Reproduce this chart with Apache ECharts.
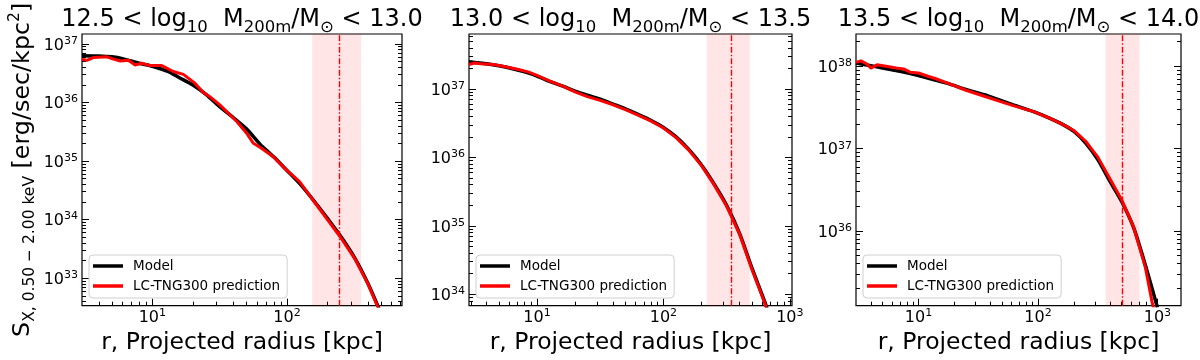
<!DOCTYPE html>
<html><head><meta charset="utf-8">
<script src="https://cdn.jsdelivr.net/npm/echarts@6/dist/echarts.min.js"></script>
<style>html,body{margin:0;padding:0;background:#fff}#c{width:1200px;height:360px}</style>
</head><body><div id="c"></div>
<script>
// ---------------- DATA ----------------
const massBins = [[12.5, 13.0], [13.0, 13.5], [13.5, 14.0]];

// Panel 1 : 12.5 < log M < 13.0
const p1ModelR = [3, 4, 5, 6, 8, 10, 13, 16, 20, 25, 32, 40, 50, 63, 80, 100, 125, 160, 200, 250, 320, 400, 500];
const p1ModelS = [6.31e36, 6.24e36, 6.03e36, 5.62e36, 4.68e36, 4.17e36, 3.39e36, 2.63e36, 2.00e36, 1.38e36, 8.32e35, 5.50e35, 3.55e35, 1.95e35, 1.17e35, 6.92e34, 4.07e34, 2.04e34, 1.05e34, 5.25e33, 2.19e33, 8.13e32, 2.51e32];
const p1PredR = [3.0, 3.27, 3.66, 4.59, 5.14, 5.77, 6.64, 7.45, 8.34, 9.62, 11.75, 14.3, 17.0, 20.7, 23.9, 26.7, 31.7, 42.2, 50, 56, 64.6, 78.7, 98.9, 124, 160, 200, 250, 320, 400, 500];
const p1PredS = [5.50e36, 5.25e36, 5.89e36, 6.03e36, 5.50e36, 5.13e36, 5.25e36, 4.37e36, 4.68e36, 4.27e36, 4.27e36, 3.39e36, 3.02e36, 2.14e36, 1.48e36, 1.26e36, 9.12e35, 4.79e35, 3.02e35, 2.04e35, 1.66e35, 1.20e35, 7.08e34, 4.47e34, 2.00e34, 1.00e34, 5.00e33, 2.14e33, 7.94e32, 2.40e32];
const p1Band = [154, 356];
const p1R200 = 245;

// Panel 2 : 13.0 < log M < 13.5
const p2ModelR = [2.9, 4, 5, 6.3, 8, 10, 12.6, 16, 20, 25, 32, 40, 50, 63, 80, 100, 126, 158, 200, 250, 316, 400, 500, 630, 700];
const p2ModelS = [2.51e37, 2.34e37, 2.19e37, 2.00e37, 1.78e37, 1.55e37, 1.29e37, 1.10e37, 9.33e36, 8.13e36, 7.08e36, 6.03e36, 5.13e36, 4.27e36, 3.47e36, 2.75e36, 2.00e36, 1.32e36, 7.76e35, 4.17e35, 2.00e35, 7.76e34, 2.45e34, 7.94e33, 4.47e33];
const p2PredR = [2.9, 3.2, 3.6, 4.5, 5.5, 7, 8.5, 10, 12.5, 16, 20, 25, 32, 40, 50, 63, 80, 100, 126, 158, 200, 250, 316, 400, 500, 630, 700];
const p2PredS = [2.29e37, 2.40e37, 2.34e37, 2.29e37, 2.14e37, 1.95e37, 1.78e37, 1.58e37, 1.32e37, 1.10e37, 9.12e36, 7.76e36, 6.76e36, 5.89e36, 5.01e36, 4.17e36, 3.39e36, 2.69e36, 1.95e36, 1.29e36, 7.59e35, 4.07e35, 1.95e35, 7.59e34, 2.34e34, 7.59e33, 4.17e33];
const p2Band = [220, 483];
const p2R200 = 347;

// Panel 3 : 13.5 < log M < 14.0
const p3ModelR = [3, 4, 5, 7, 10, 13.3, 17.8, 25, 35.5, 48, 63, 92, 126, 158, 200, 251, 316, 398, 501, 631, 794, 1000];
const p3ModelS = [1.10e38, 1.02e38, 9.55e37, 8.71e37, 7.76e37, 6.92e37, 6.17e37, 5.25e37, 4.52e37, 3.89e37, 3.39e37, 2.82e37, 2.34e37, 2.00e37, 1.62e37, 1.17e37, 7.41e36, 4.07e36, 2.29e36, 1.10e36, 3.80e35, 1.17e35];
const p3PredR = [3, 3.3, 3.7, 4.0, 4.5, 5.5, 6.5, 7.5, 8.5, 10, 12, 14, 18, 25, 35, 48, 63, 92, 126, 158, 200, 251, 290, 316, 398, 501, 631, 794, 900, 1000];
const p3PredS = [1.12e38, 1.17e38, 1.07e38, 9.55e37, 1.05e38, 1.00e38, 9.55e37, 9.33e37, 8.51e37, 8.32e37, 7.59e37, 7.08e37, 6.17e37, 5.13e37, 4.37e37, 3.76e37, 3.31e37, 2.82e37, 2.34e37, 2.00e37, 1.66e37, 1.23e37, 9.33e36, 7.94e36, 4.37e36, 2.40e36, 1.12e36, 3.55e35, 1.38e35, 7.40e34];
const p3Band = [368, 708];
const p3R200 = 508;

const seriesNames = ['Model', 'LC-TNG300 prediction'];
const xAxisTitle = 'r, Projected radius [kpc]';

// ---------------- LAYOUT ----------------
const FONT = 'DejaVu Sans';
const panels = [
  {bin: massBins[0], mR: p1ModelR, mS: p1ModelS, pR: p1PredR, pS: p1PredS, band: p1Band, r200: p1R200,
   x: [3.0, 716], y: [3.39e32, 1.48e37], left: 82, width: 320},
  {bin: massBins[1], mR: p2ModelR, mS: p2ModelS, pR: p2PredR, pS: p2PredS, band: p2Band, r200: p2R200,
   x: [2.9, 1040], y: [6.8e33, 6.38e37], left: 469, width: 323},
  {bin: massBins[2], mR: p3ModelR, mS: p3ModelS, pR: p3PredR, pS: p3PredS, band: p3Band, r200: p3R200,
   x: [3.0, 1575], y: [1.23e35, 2.48e38], left: 856, width: 325}
];
const TOP = 34, HEIGHT = 271.7;

function zip(a, b) { return a.map((v, i) => [v, b[i]]); }
function decadeTicks(lo, hi, ks) {
  const out = [];
  for (let e = Math.floor(Math.log10(lo)) - 1; e <= Math.ceil(Math.log10(hi)) + 1; e++) {
    for (const k of ks) {
      const v = k * Math.pow(10, e);
      if (v >= lo * 1.0001 && v <= hi * 0.9999) out.push(v);
    }
  }
  return out;
}
const MAJ = [1], MIN = [2, 3, 4, 5, 6, 7, 8, 9];
const tickRich = {
  b: {fontSize: 16, fontFamily: FONT, color: '#000', padding: [3, 0, 0, 0]},
  p: {fontSize: 11, fontFamily: FONT, color: '#000', padding: [0, 0, 6, 0]}
};
function powFmt(v) { return '{b|10}{p|' + Math.round(Math.log10(v)) + '}'; }

const grid = [], xAxis = [], yAxis = [], series = [], legend = [], title = [];

panels.forEach((P, i) => {
  grid.push({left: P.left, top: TOP, width: P.width, height: HEIGHT, show: true,
    borderColor: '#000', borderWidth: 1.2, backgroundColor: 'transparent', containLabel: false, outerBoundsMode: 'none'});
  const xMaj = decadeTicks(P.x[0], P.x[1], MAJ), xMin = decadeTicks(P.x[0], P.x[1], MIN);
  const yMaj = decadeTicks(P.y[0], P.y[1], MAJ), yMin = decadeTicks(P.y[0], P.y[1], MIN);
  const xi = xAxis.length, yi = yAxis.length;
  xAxis.push({type: 'log', gridIndex: i, min: P.x[0], max: P.x[1], position: 'bottom',
    axisLine: {show: false}, splitLine: {show: false},
    axisTick: {show: true, inside: true, length: 7, lineStyle: {color: '#000', width: 1}, customValues: xMaj},
    axisLabel: {show: true, customValues: xMaj, formatter: powFmt, rich: tickRich, margin: 1},
    name: xAxisTitle, nameLocation: 'middle', nameGap: 23,
    nameTextStyle: {fontSize: 23.5, color: '#000', fontFamily: FONT}});
  xAxis.push({type: 'log', gridIndex: i, min: P.x[0], max: P.x[1], position: 'bottom',
    axisLine: {show: false}, splitLine: {show: false},
    axisTick: {show: true, inside: true, length: 4, lineStyle: {color: '#000', width: 1}, customValues: xMin},
    axisLabel: {show: false}});
  const yMajor = {type: 'log', gridIndex: i, min: P.y[0], max: P.y[1], position: 'left',
    axisLine: {show: false}, splitLine: {show: false},
    axisTick: {show: true, inside: true, length: 7, lineStyle: {color: '#000', width: 1}, customValues: yMaj},
    axisLabel: {show: true, customValues: yMaj, formatter: powFmt, rich: tickRich, margin: 4}};
  if (i === 0) {
    yMajor.name = '{n|S}{s|X, 0.50 \u2212 2.00 keV}{n| [erg/sec/kpc}{p|2}{n|]}';
    yMajor.nameLocation = 'middle';
    yMajor.nameRotate = 90;
    yMajor.nameGap = 44;
    yMajor.nameTextStyle = {rich: {
      n: {fontSize: 23.8, fontFamily: FONT, color: '#000', lineHeight: 30},
      s: {fontSize: 15.5, fontFamily: FONT, color: '#000', lineHeight: 10, padding: [14, 0, 0, 0]},
      p: {fontSize: 15.5, fontFamily: FONT, color: '#000', lineHeight: 10, padding: [0, 0, 16, 0]}
    }};
  }
  yAxis.push(yMajor);
  yAxis.push({type: 'log', gridIndex: i, min: P.y[0], max: P.y[1], position: 'left',
    axisLine: {show: false}, splitLine: {show: false},
    axisTick: {show: true, inside: true, length: 4, lineStyle: {color: '#000', width: 1}, customValues: yMin},
    axisLabel: {show: false}});
  yAxis.push({type: 'log', gridIndex: i, min: P.y[0], max: P.y[1], position: 'right',
    axisLine: {show: false}, splitLine: {show: false},
    axisTick: {show: true, inside: true, length: 7, lineStyle: {color: '#000', width: 1}, customValues: yMaj},
    axisLabel: {show: false}});
  yAxis.push({type: 'log', gridIndex: i, min: P.y[0], max: P.y[1], position: 'right',
    axisLine: {show: false}, splitLine: {show: false},
    axisTick: {show: true, inside: true, length: 4, lineStyle: {color: '#000', width: 1}, customValues: yMin},
    axisLabel: {show: false}});

  series.push({type: 'line', name: seriesNames[0], xAxisIndex: xi, yAxisIndex: yi,
    data: zip(P.mR, P.mS), symbol: 'none', showSymbol: false, smooth: 0.25,
    lineStyle: {color: '#000', width: 3.5}, itemStyle: {color: '#000'}, z: 3,
    markArea: {silent: true, itemStyle: {color: 'rgba(255,0,0,0.1)'},
      data: [[{xAxis: P.band[0]}, {xAxis: P.band[1]}]]},
    markLine: {silent: true, symbol: ['none', 'none'], label: {show: false},
      lineStyle: {color: '#ff0000', width: 1.4, type: [6, 2, 1.5, 2]},
      data: [{xAxis: P.r200}]}});
  series.push({type: 'line', name: seriesNames[1], xAxisIndex: xi, yAxisIndex: yi,
    data: zip(P.pR, P.pS), symbol: 'none', showSymbol: false,
    lineStyle: {color: '#ff0000', width: 3}, itemStyle: {color: '#ff0000'}, z: 4});

  legend.push({orient: 'vertical', left: P.left + 7, top: 255, data: seriesNames,
    icon: 'rect', itemWidth: 30, itemHeight: 3.5, itemGap: 4, padding: [3, 7, 4, 4],
    backgroundColor: 'rgba(255,255,255,0.85)', borderColor: '#d0d0d0', borderWidth: 1, borderRadius: 4,
    selectedMode: false,
    formatter: function (name) { return '{t|' + name + '}'; },
    textStyle: {fontSize: 13.5, color: '#000', fontFamily: FONT, lineHeight: 16,
      rich: {t: {fontSize: 13.5, color: '#000', fontFamily: FONT, lineHeight: 16, padding: [0, 0, 0, 5]}}}});

  const a = P.bin[0].toFixed(1), b = P.bin[1].toFixed(1);
  title.push({text: '{n|' + a + ' < log}{s|10}{n|  M}{s|200m}{n|/M}{s|\u2299}{n| < ' + b + '}',
    left: P.left + P.width / 2, textAlign: 'center', top: 5, padding: 0,
    textStyle: {fontWeight: 'normal', rich: {
      n: {fontSize: 24, fontFamily: FONT, fontWeight: 'normal', color: '#000', lineHeight: 30},
      s: {fontSize: 16.5, fontFamily: FONT, fontWeight: 'normal', color: '#000', lineHeight: 10, padding: [15, 0, 0, 0]}
    }}});
});

const chart = echarts.init(document.getElementById('c'), null, {renderer: 'canvas'});
chart.setOption({animation: false, backgroundColor: '#fff', title, grid, xAxis, yAxis, legend, series});
</script></body></html>
